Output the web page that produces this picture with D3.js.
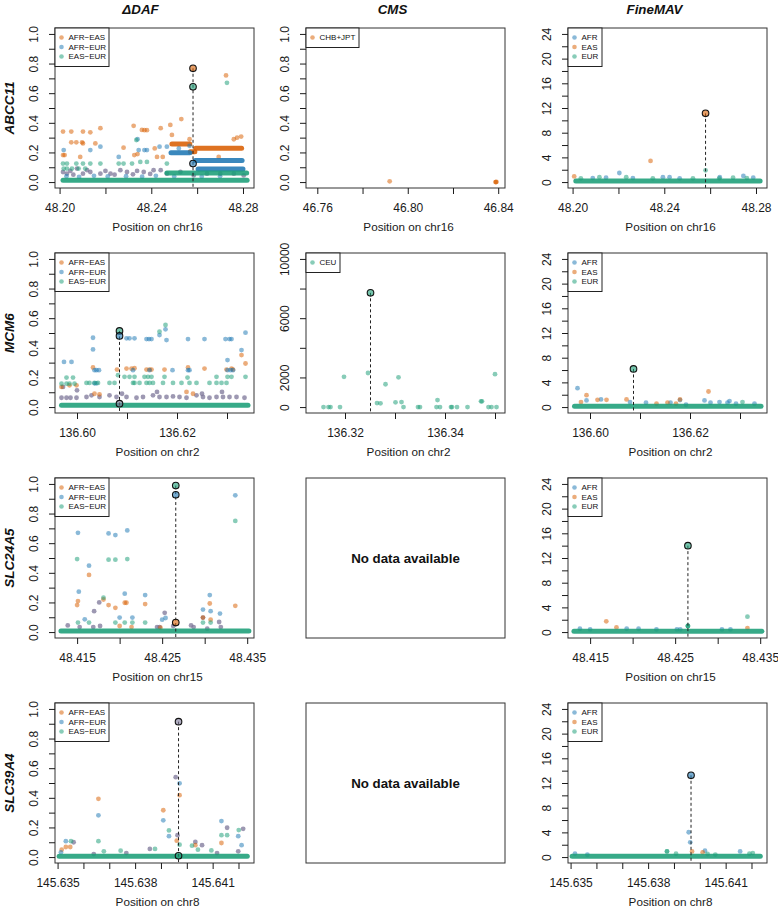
<!DOCTYPE html>
<html><head><meta charset="utf-8">
<script src="https://cdn.jsdelivr.net/npm/d3@7"></script>
<style>
body{margin:0;background:#fff;}
svg{display:block;font-family:"Liberation Sans",Arial,Helvetica,sans-serif;}
</style></head><body>
<svg id="chart" width="778" height="907"></svg>
<script>
// ---------------- DATA ----------------
const genes = ["ABCC11", "MCM6", "SLC24A5", "SLC39A4"];
const chroms = ["chr16", "chr2", "chr15", "chr8"];
const metrics = ["ΔDAF", "CMS", "FineMAV"];
const dafSeries = ["AFR−EAS", "AFR−EUR", "EAS−EUR"];
const fmSeries = ["AFR", "EAS", "EUR"];
const cmsSeriesABCC11 = ["CHB+JPT"];
const cmsSeriesMCM6 = ["CEU"];
const noDataText = "No data available";

// tick values / labels
const dafYTicks = [0, 0.1, 0.2, 0.3, 0.4, 0.5, 0.6, 0.7, 0.8, 0.9, 1.0];
const dafYLabels = ["0.0", "0.2", "0.4", "0.6", "0.8", "1.0"];
const fmYTicks = [0, 2, 4, 6, 8, 10, 12, 14, 16, 18, 20, 22, 24];
const fmYLabels = ["0", "4", "8", "12", "16", "20", "24"];
const cmsYTicksMCM6 = [0, 2000, 4000, 6000, 8000, 10000];
const cmsYLabelsMCM6 = ["0", "2000", "6000", "10000"];

const abcc11XTicks = [48.20, 48.22, 48.24, 48.26, 48.28];
const abcc11XLabels = ["48.20", "48.24", "48.28"];
const abcc11CmsXTicks = [46.76, 46.78, 46.80, 46.82, 46.84];
const abcc11CmsXLabels = ["46.76", "46.80", "46.84"];
const mcm6XTicks = [136.60, 136.61, 136.62, 136.63];
const mcm6XLabels = ["136.60", "136.62"];
const mcm6CmsXTicks = [136.32, 136.33, 136.34, 136.35];
const mcm6CmsXLabels = ["136.32", "136.34"];
const slc24a5XTicks = [48.415, 48.420, 48.425, 48.430, 48.435];
const slc24a5XLabels = ["48.415", "48.425", "48.435"];
const slc39a4XTicks = [145.635, 145.636, 145.637, 145.638, 145.639, 145.640, 145.641, 145.642];
const slc39a4XLabels = ["145.635", "145.638", "145.641"];

// axis limits
const abcc11XLim = [48.1980, 48.2848];
const abcc11CmsXLim = [46.7550, 46.8430];
const mcm6XLim = [136.5956, 136.6354];
const mcm6CmsXLim = [136.3122, 136.3520];
const slc24a5XLim = [48.4124, 48.4358];
const slc39a4XLim = [145.6349, 145.6426];
const dafYLim = [-0.04, 1.04];
const fmYLim = [-0.96, 24.96];
const cmsYLimMCM6 = [-400, 10400];

// points: [position (Mb), value, series index]; series 3 = overlapping populations
// runs: [from, to, value, series] = dense rows of overlapping points
// lead: highlighted variant(s)
const abcc11DafPoints = [
 [48.2015,0.341,0],[48.2051,0.341,0],[48.2102,0.341,0],[48.2134,0.336,0],[48.2178,0.364,0],
 [48.2051,0.268,0],[48.2073,0.268,0],[48.2098,0.268,0],[48.2102,0.261,0],[48.2156,0.261,0],
 [48.2015,0.182,0],[48.2022,0.182,0],[48.2090,0.170,0],
 [48.2279,0.232,0],[48.2323,0.380,0],[48.2359,0.352,0],[48.2370,0.350,0],[48.2381,0.350,0],
 [48.2326,0.182,0],[48.2340,0.189,0],[48.2415,0.227,0],[48.2425,0.170,0],[48.2450,0.170,0],
 [48.2441,0.364,0],[48.2483,0.386,0],[48.2490,0.318,0],[48.2531,0.425,0],[48.2567,0.289,0],
 [48.2694,0.170,0],[48.2760,0.289,0],[48.2774,0.300,0],[48.2792,0.307,0],[48.2726,0.720,0],
 [48.2018,0.216,1],[48.2134,0.216,1],[48.2178,0.239,1],[48.2340,0.289,1],[48.2345,0.216,1],
 [48.2370,0.216,1],[48.2381,0.216,1],[48.2436,0.239,1],[48.2468,0.239,1],[48.2520,0.227,1],
 [48.2567,0.245,1],[48.2258,0.170,1],
 [48.2030,0.040,1],[48.2085,0.035,1],[48.2150,0.042,1],[48.2210,0.038,1],[48.2290,0.040,1],
 [48.2360,0.036,1],[48.2420,0.042,1],[48.2500,0.038,1],[48.2620,0.036,1],[48.2700,0.040,1],
 [48.2015,0.125,2],[48.2032,0.125,2],[48.2073,0.125,2],[48.2102,0.125,2],[48.2134,0.125,2],
 [48.2178,0.125,2],[48.2258,0.125,2],[48.2279,0.125,2],[48.2316,0.125,2],[48.2352,0.136,2],
 [48.2381,0.136,2],[48.2468,0.125,2],[48.2335,0.284,2],[48.2730,0.670,2],
 [48.2018,0.091,2],[48.2032,0.091,2],[48.2054,0.091,2],[48.2083,0.091,2],[48.2112,0.091,2],
 [48.2015,0.068,3],[48.2032,0.057,3],[48.2047,0.075,3],[48.2076,0.091,3],[48.2102,0.057,3],
 [48.2134,0.068,3],[48.2178,0.057,3],[48.2222,0.057,3],[48.2265,0.080,3],[48.2294,0.068,3],
 [48.2338,0.075,3],[48.2367,0.068,3],[48.2410,0.080,3],[48.2441,0.080,3],[48.2468,0.057,3],
 [48.2527,0.068,3],[48.2585,0.045,3],[48.2643,0.057,3],[48.2701,0.057,3],[48.2760,0.057,3],
 [48.2803,0.045,3],[48.2060,0.050,3],[48.2120,0.080,3],[48.2200,0.075,3],[48.2240,0.050,3],
 [48.2320,0.052,3],[48.2395,0.055,3]
];
const abcc11DafRuns = [
 [48.2490,48.2568,0.257,0],[48.2570,48.2590,0.205,0],[48.2594,48.2794,0.228,0],
 [48.2486,48.2568,0.198,1],[48.2592,48.2796,0.145,1],[48.2604,48.2800,0.088,1],
 [48.2468,48.2816,0.062,2],[48.2015,48.2818,0.012,2]
];
const abcc11DafLead = [[48.2582,0.768,0],[48.2582,0.643,2],[48.2582,0.125,1]];

const abcc11CmsPoints = [[46.7920,0.005,0],[46.8388,0.0,0],[46.8390,0.0,0],[46.8392,0.001,0]];

const abcc11FmPoints = [
 [48.2340,3.42,1],[48.2007,0.92,1],[48.2204,1.47,0],[48.2394,0.80,0],[48.2423,0.80,0],
 [48.2642,0.80,0],[48.2745,1.00,0],[48.2788,0.70,0],[48.2580,1.90,2],
 [48.2036,0.60,2],[48.2088,0.65,0],[48.2117,0.80,2],[48.2146,0.70,0],[48.2234,0.80,2],
 [48.2263,0.65,0],[48.2350,0.60,2],[48.2467,0.60,0],[48.2525,0.60,2],[48.2640,0.60,2],
 [48.2700,0.70,2],[48.2760,0.65,2]
];
const abcc11FmRuns = [[48.2014,48.2818,0.18,2]];
const abcc11FmLead = [[48.2580,11.13,1]];

const mcm6DafPoints = [
 [136.6032,0.468,1],[136.6032,0.389,1],[136.6099,0.464,1],[136.6105,0.464,1],[136.6115,0.464,1],
 [136.6139,0.459,1],[136.6144,0.459,1],[136.6149,0.459,1],[136.6165,0.486,1],[136.6179,0.452,1],
 [136.6177,0.525,1],[136.6222,0.459,1],[136.6255,0.459,1],[136.6297,0.459,1],[136.6305,0.459,1],
 [136.6309,0.459,1],[136.6337,0.502,1],
 [136.5974,0.305,1],[136.5989,0.305,1],[136.6301,0.317,1],[136.6329,0.385,1],
 [136.6035,0.249,1],[136.6039,0.249,1],[136.6044,0.249,1],[136.6112,0.249,1],[136.6145,0.249,1],
 [136.6191,0.249,1],[136.6222,0.249,1],[136.6225,0.249,1],[136.6301,0.249,1],[136.6307,0.249,1],
 [136.6312,0.249,1],[136.6035,0.160,1],[136.6039,0.160,1],
 [136.6032,0.267,0],[136.6080,0.253,0],[136.6099,0.260,0],[136.6109,0.260,0],[136.6115,0.262,0],
 [136.6139,0.253,0],[136.6145,0.253,0],[136.6149,0.253,0],[136.6175,0.253,0],[136.6222,0.267,0],
 [136.6255,0.260,0],[136.6299,0.253,0],[136.6309,0.260,0],[136.6312,0.253,0],[136.6329,0.351,0],
 [136.6337,0.294,0],[136.5969,0.136,0],[136.5985,0.147,0],[136.5999,0.147,0],[136.6035,0.090,0],
 [136.6045,0.086,0],[136.6219,0.102,0],[136.6232,0.090,0],
 [136.5979,0.199,2],[136.5992,0.199,2],[136.6082,0.215,2],[136.6095,0.204,2],[136.6105,0.204,2],
 [136.6115,0.204,2],[136.6135,0.204,2],[136.6142,0.204,2],[136.6149,0.204,2],[136.6175,0.204,2],
 [136.6221,0.199,2],[136.6279,0.204,2],[136.6301,0.204,2],[136.6309,0.204,2],[136.6337,0.204,2],
 [136.6165,0.509,2],[136.6177,0.554,2],
 [136.5969,0.158,2],[136.5979,0.158,2],[136.5985,0.158,2],[136.5995,0.158,2],[136.6019,0.163,2],
 [136.6025,0.163,2],[136.6035,0.163,2],[136.6042,0.163,2],[136.6065,0.163,2],[136.6075,0.163,2],
 [136.6112,0.163,2],[136.6115,0.163,2],[136.6125,0.163,2],[136.6139,0.163,2],[136.6145,0.163,2],
 [136.6152,0.163,2],[136.6172,0.163,2],[136.6192,0.163,2],[136.6209,0.163,2],[136.6225,0.163,2],
 [136.6239,0.163,2],[136.6265,0.163,2],[136.6279,0.163,2],[136.6289,0.163,2],[136.6299,0.163,2],
 [136.5969,0.063,3],[136.5979,0.063,3],[136.5987,0.063,3],[136.5999,0.063,3],[136.6019,0.068,3],
 [136.6029,0.079,3],[136.6045,0.068,3],[136.6065,0.079,3],[136.6079,0.068,3],[136.6099,0.068,3],
 [136.6119,0.063,3],[136.6132,0.068,3],[136.6152,0.079,3],[136.6165,0.068,3],[136.6179,0.068,3],
 [136.6192,0.072,3],[136.6205,0.068,3],[136.6219,0.063,3],[136.6239,0.079,3],[136.6252,0.068,3],
 [136.6265,0.063,3],[136.6279,0.068,3],[136.6292,0.068,3],[136.6305,0.068,3],[136.6319,0.068,3],
 [136.6335,0.063,3],[136.5972,0.136,3],[136.6000,0.113,3],[136.6090,0.090,3],[136.6160,0.102,3],
 [136.6250,0.090,3],[136.6290,0.102,3]
];
const mcm6DafRuns = [[136.5969,136.6342,0.012,2]];
const mcm6DafLead = [[136.6085,0.514,2],[136.6085,0.480,1],[136.6085,0.023,3]];

const mcm6CmsPoints = [
 [136.3157,0,0],[136.3167,0,0],[136.3171,0,0],[136.3190,0,0],[136.3198,2040,0],[136.3246,2300,0],
 [136.3264,270,0],[136.3271,250,0],[136.3281,1540,0],[136.3301,320,0],[136.3307,2010,0],
 [136.3313,340,0],[136.3317,0,0],[136.3346,0,0],[136.3350,0,0],[136.3385,475,0],[136.3383,0,0],
 [136.3390,0,0],[136.3412,0,0],[136.3414,0,0],[136.3424,0,0],[136.3445,0,0],[136.3472,385,0],
 [136.3474,385,0],[136.3487,0,0],[136.3493,0,0],[136.3500,2220,0],[136.3503,0,0]
];
const mcm6CmsLead = [[136.3251,7710,0]];

const mcm6FmPoints = [
 [136.5975,3.06,0],[136.5993,1.93,1],[136.5993,1.07,0],[136.5982,0.81,1],[136.6015,1.18,1],
 [136.6022,1.24,0],[136.6033,1.18,1],[136.6073,1.24,1],[136.6080,0.81,0],[136.6112,0.70,0],
 [136.6133,0.54,1],[136.6155,0.70,1],[136.6161,0.70,0],[136.6172,0.54,1],[136.6180,1.24,1],
 [136.6180,1.13,0],[136.6192,0.38,0],[136.6237,2.52,1],[136.6229,1.07,0],[136.6241,0.70,0],
 [136.6259,0.81,0],[136.6279,0.97,0],[136.6275,0.70,0],[136.6292,0.54,0],[136.6305,0.81,2],
 [136.6329,0.54,0]
];
const mcm6FmRuns = [[136.5969,136.6342,0.15,2]];
const mcm6FmLead = [[136.6087,6.18,2]];

const slc24a5DafPoints = [
 [48.4151,0.670,1],[48.4164,0.448,1],[48.4152,0.273,1],[48.4187,0.666,1],[48.4195,0.655,1],
 [48.4209,0.686,1],[48.4206,0.259,1],[48.4230,0.250,1],[48.4200,0.098,1],[48.4215,0.098,1],
 [48.4159,0.086,1],[48.4336,0.923,1],[48.4306,0.250,1],[48.4298,0.152,1],[48.4307,0.141,1],
 [48.4318,0.125,1],[48.4254,0.095,1],[48.4250,0.084,1],
 [48.4150,0.493,2],[48.4187,0.489,2],[48.4195,0.489,2],[48.4209,0.493,2],[48.4336,0.750,2],
 [48.4181,0.232,2],[48.4151,0.064,2],[48.4164,0.064,2],[48.4195,0.064,2],[48.4206,0.064,2],
 [48.4215,0.064,2],[48.4230,0.064,2],[48.4298,0.064,2],[48.4307,0.064,2],
 [48.4151,0.209,0],[48.4150,0.182,0],[48.4164,0.386,0],[48.4181,0.220,0],[48.4187,0.182,0],
 [48.4195,0.164,0],[48.4206,0.198,0],[48.4208,0.198,0],[48.4230,0.189,0],[48.4306,0.193,0],
 [48.4307,0.084,0],[48.4298,0.098,0],[48.4336,0.177,0],[48.4200,0.041,0],[48.4214,0.034,0],
 [48.4248,0.030,0],
 [48.4176,0.200,3],[48.4170,0.141,3],[48.4253,0.130,3],[48.4298,0.098,3],[48.4317,0.068,3],
 [48.4139,0.045,3],[48.4153,0.034,3],[48.4169,0.034,3],[48.4177,0.041,3],[48.4244,0.034,3],
 [48.4247,0.034,3],[48.4263,0.041,3],[48.4284,0.045,3],[48.4287,0.034,3],[48.4319,0.034,3],
 [48.4303,0.023,3]
];
const slc24a5DafRuns = [[48.4131,48.4352,0.007,2]];
const slc24a5DafLead = [[48.4266,0.989,2],[48.4266,0.927,1],[48.4266,0.064,0]];

const slc24a5FmPoints = [
 [48.4169,1.74,1],[48.4181,0.76,1],[48.4335,2.50,2],[48.4335,0.65,1],[48.4265,0.98,2],
 [48.4265,0.98,2],[48.4265,0.98,2],
 [48.4138,0.54,0],[48.4150,0.43,0],[48.4193,0.54,0],[48.4207,0.54,0],[48.4228,0.43,0],
 [48.4252,0.43,0],[48.4256,0.43,0],[48.4305,0.43,0],[48.4315,0.43,0]
];
const slc24a5FmRuns = [[48.4131,48.4352,0.15,2]];
const slc24a5FmLead = [[48.4265,14.0,2]];

const slc39a4DafPoints = [
 [145.63658,0.393,0],[145.63909,0.316,0],[145.64134,0.095,0],[145.63532,0.068,0],[145.63549,0.068,0],
 [145.63516,0.050,0],[145.64033,0.080,0],[145.63972,0.418,0],[145.63961,0.111,0],
 [145.63658,0.282,1],[145.63909,0.248,1],[145.64134,0.243,1],[145.64199,0.141,1],[145.64212,0.080,1],
 [145.63532,0.107,1],[145.63513,0.032,1],[145.63931,0.141,1],[145.63972,0.498,1],
 [145.63658,0.107,2],[145.63931,0.180,2],[145.64134,0.148,2],[145.64156,0.148,2],[145.64201,0.182,2],
 [145.63552,0.107,2],[145.63679,0.039,2],[145.63744,0.043,2],[145.63877,0.055,2],[145.64020,0.077,2],
 [145.64043,0.050,2],[145.64095,0.045,2],[145.63972,0.084,2],
 [145.63957,0.539,3],[145.63964,0.148,3],[145.64156,0.198,3],[145.64218,0.191,3],[145.63562,0.100,3],
 [145.63640,0.020,3],[145.63766,0.027,3],[145.63857,0.055,3],[145.64033,0.102,3],[145.64059,0.080,3],
 [145.64199,0.039,3],[145.64117,0.027,3]
];
const slc39a4DafRuns = [[145.63506,145.64234,0.005,2]];
const slc39a4DafLead = [[145.63968,0.914,3],[145.63968,0.009,2]];

const slc39a4FmPoints = [
 [145.63957,4.02,0],[145.63963,2.39,0],[145.63970,0.92,1],[145.64011,0.76,1],[145.64020,1.03,0],
 [145.63873,0.92,2],[145.63873,0.92,2],[145.63908,0.54,2],[145.64156,0.92,0],[145.63517,0.54,0],
 [145.63565,0.38,0],[145.64192,0.54,2],[145.64205,0.65,2],[145.64030,0.50,2],[145.64060,0.40,2]
];
const slc39a4FmRuns = [[145.63506,145.64234,0.15,2]];
const slc39a4FmLead = [[145.63966,13.25,0]];

// ---------------- DRAWING ----------------
const svg = d3.select("#chart");
const COLS = [55, 306, 568], BW = 199;
const ROWS = [28, 253, 478, 703], BH = 160;
const seriesColor = {
  "AFR−EAS": "#D95F02", "AFR−EUR": "#1F78B4", "EAS−EUR": "#1B9E77",
  "AFR": "#1F78B4", "EAS": "#D95F02", "EUR": "#1B9E77",
  "CHB+JPT": "#D95F02", "CEU": "#1B9E77"
};
const mixColor = "#7C7698";
const INK = "#1a1a1a";

const panels = [
  {row:0,col:0,series:dafSeries,legendW:54,xlim:abcc11XLim,ylim:dafYLim,xt:abcc11XTicks,xl:abcc11XLabels,yt:dafYTicks,yl:dafYLabels,pts:abcc11DafPoints,runs:abcc11DafRuns,lead:abcc11DafLead},
  {row:0,col:1,series:cmsSeriesABCC11,legendW:53,xlim:abcc11CmsXLim,ylim:dafYLim,xt:abcc11CmsXTicks,xl:abcc11CmsXLabels,yt:dafYTicks,yl:dafYLabels,pts:abcc11CmsPoints,runs:[],lead:[]},
  {row:0,col:2,series:fmSeries,legendW:34,xlim:abcc11XLim,ylim:fmYLim,xt:abcc11XTicks,xl:abcc11XLabels,yt:fmYTicks,yl:fmYLabels,pts:abcc11FmPoints,runs:abcc11FmRuns,lead:abcc11FmLead},
  {row:1,col:0,series:dafSeries,legendW:54,xlim:mcm6XLim,ylim:dafYLim,xt:mcm6XTicks,xl:mcm6XLabels,yt:dafYTicks,yl:dafYLabels,pts:mcm6DafPoints,runs:mcm6DafRuns,lead:mcm6DafLead},
  {row:1,col:1,series:cmsSeriesMCM6,legendW:34,xlim:mcm6CmsXLim,ylim:cmsYLimMCM6,xt:mcm6CmsXTicks,xl:mcm6CmsXLabels,yt:cmsYTicksMCM6,yl:cmsYLabelsMCM6,pts:mcm6CmsPoints,runs:[],lead:mcm6CmsLead},
  {row:1,col:2,series:fmSeries,legendW:34,xlim:mcm6XLim,ylim:fmYLim,xt:mcm6XTicks,xl:mcm6XLabels,yt:fmYTicks,yl:fmYLabels,pts:mcm6FmPoints,runs:mcm6FmRuns,lead:mcm6FmLead},
  {row:2,col:0,series:dafSeries,legendW:54,xlim:slc24a5XLim,ylim:dafYLim,xt:slc24a5XTicks,xl:slc24a5XLabels,yt:dafYTicks,yl:dafYLabels,pts:slc24a5DafPoints,runs:slc24a5DafRuns,lead:slc24a5DafLead},
  {row:2,col:1,empty:true},
  {row:2,col:2,series:fmSeries,legendW:34,xlim:slc24a5XLim,ylim:fmYLim,xt:slc24a5XTicks,xl:slc24a5XLabels,yt:fmYTicks,yl:fmYLabels,pts:slc24a5FmPoints,runs:slc24a5FmRuns,lead:slc24a5FmLead},
  {row:3,col:0,series:dafSeries,legendW:54,xlim:slc39a4XLim,ylim:dafYLim,xt:slc39a4XTicks,xl:slc39a4XLabels,yt:dafYTicks,yl:dafYLabels,pts:slc39a4DafPoints,runs:slc39a4DafRuns,lead:slc39a4DafLead},
  {row:3,col:1,empty:true},
  {row:3,col:2,series:fmSeries,legendW:34,xlim:slc39a4XLim,ylim:fmYLim,xt:slc39a4XTicks,xl:slc39a4XLabels,yt:fmYTicks,yl:fmYLabels,pts:slc39a4FmPoints,runs:slc39a4FmRuns,lead:slc39a4FmLead}
];

const defs = svg.append("defs");

function labelFor(labels, d){
  const l = labels.find(s => Math.abs(parseFloat(s) - d) < 1e-9);
  return l === undefined ? "" : l;
}

panels.forEach((p, i) => {
  const bx = COLS[p.col], by = ROWS[p.row];
  const g = svg.append("g");
  if (p.empty) {
    g.append("rect").attr("x", bx).attr("y", by).attr("width", BW).attr("height", BH)
      .attr("fill", "#fff").attr("stroke", "#333").attr("stroke-width", 1);
    g.append("text").attr("x", bx + BW/2).attr("y", by + BH/2).attr("dy", "0.35em")
      .attr("text-anchor", "middle").attr("font-weight", "bold").attr("font-size", "13.3px")
      .attr("fill", "#111").text(noDataText);
    return;
  }
  const x = d3.scaleLinear().domain(p.xlim).range([bx, bx + BW]);
  const y = d3.scaleLinear().domain(p.ylim).range([by + BH, by]);
  const color = s => s === 3 ? mixColor : seriesColor[p.series[s]];

  const cid = "clip" + i;
  defs.append("clipPath").attr("id", cid).append("rect")
    .attr("x", bx).attr("y", by).attr("width", BW).attr("height", BH);
  const plot = g.append("g").attr("clip-path", `url(#${cid})`);

  [3, 0, 1, 2].forEach(s => {
    plot.append("g").selectAll("circle").data(p.pts.filter(d => d[2] === s)).join("circle")
      .attr("cx", d => x(d[0])).attr("cy", d => y(d[1])).attr("r", 2.4)
      .attr("fill", color(s)).attr("fill-opacity", s === 3 ? 0.75 : 0.52);
    plot.append("g").selectAll("line").data(p.runs.filter(d => d[3] === s)).join("line")
      .attr("x1", d => x(d[0])).attr("x2", d => x(d[1]))
      .attr("y1", d => y(d[2])).attr("y2", d => y(d[2]))
      .attr("stroke", color(s)).attr("stroke-width", 5).attr("stroke-linecap", "round")
      .attr("stroke-opacity", 0.88);
  });

  if (p.lead.length) {
    const top = d3.max(p.lead, d => d[1]);
    plot.append("line").attr("x1", x(p.lead[0][0])).attr("x2", x(p.lead[0][0]))
      .attr("y1", y(top)).attr("y2", by + BH)
      .attr("stroke", "#222").attr("stroke-width", 1).attr("stroke-dasharray", "3,2.5");
    plot.append("g").selectAll("circle").data(p.lead).join("circle")
      .attr("cx", d => x(d[0])).attr("cy", d => y(d[1])).attr("r", 3.3)
      .attr("fill", d => color(d[2])).attr("fill-opacity", 0.6)
      .attr("stroke", "#111").attr("stroke-width", 1.1);
  }

  // box
  g.append("rect").attr("x", bx).attr("y", by).attr("width", BW).attr("height", BH)
    .attr("fill", "none").attr("stroke", "#333").attr("stroke-width", 1);

  // legend
  const n = p.series.length;
  const lg = g.append("g");
  lg.append("rect").attr("x", bx).attr("y", by).attr("width", p.legendW).attr("height", 10 + 9.5 * n)
    .attr("fill", "#fff").attr("stroke", "#222").attr("stroke-width", 1);
  p.series.forEach((s, k) => {
    const cy = by + 9.5 + 9.5 * k;
    lg.append("circle").attr("cx", bx + 6.5).attr("cy", cy).attr("r", 2.3)
      .attr("fill", seriesColor[s]).attr("fill-opacity", 0.52);
    lg.append("text").attr("x", bx + 13.5).attr("y", cy).attr("dy", "0.35em")
      .attr("font-size", "8px").attr("fill", "#111").text(s);
  });

  // axes
  const xa = d3.axisBottom(x).tickValues(p.xt).tickSize(6).tickPadding(9.5)
    .tickFormat(d => labelFor(p.xl, d));
  const gx = g.append("g").attr("transform", `translate(0,${by + BH})`).call(xa);
  gx.select(".domain").remove();
  gx.attr("font-size", "12px").attr("font-family", null);
  gx.selectAll("line").attr("stroke", INK);
  gx.selectAll("text").attr("fill", INK);

  const ya = d3.axisLeft(y).tickValues(p.yt).tickSize(6)
    .tickFormat(d => labelFor(p.yl, d));
  const gy = g.append("g").attr("transform", `translate(${bx},0)`).call(ya);
  gy.select(".domain").remove();
  gy.attr("font-size", "12px").attr("font-family", null);
  gy.selectAll("line").attr("stroke", INK);
  gy.selectAll("text").attr("fill", INK)
    .attr("transform", "rotate(-90)").attr("x", 0).attr("y", -17).attr("dy", null)
    .attr("text-anchor", "middle");

  // x title
  g.append("text").attr("x", bx + BW/2 + 3).attr("y", by + BH + 43)
    .attr("text-anchor", "middle").attr("font-size", "11.7px").attr("fill", INK)
    .text("Position on " + chroms[p.row]);
});

// column titles
const titleX = [140.5, 392.5, 654.5];
metrics.forEach((m, c) => {
  svg.append("text").attr("x", titleX[c]).attr("y", 14).attr("text-anchor", "middle")
    .attr("font-weight", "bold").attr("font-style", "italic").attr("font-size", "13.3px")
    .attr("fill", "#111").text(m);
});

// row labels
genes.forEach((gname, r) => {
  const cy = ROWS[r] + BH/2;
  svg.append("text").attr("transform", `translate(14,${cy}) rotate(-90)`)
    .attr("text-anchor", "middle").attr("font-weight", "bold").attr("font-style", "italic")
    .attr("font-size", "13.5px").attr("fill", "#111").text(gname);
});
</script>
</body></html>
